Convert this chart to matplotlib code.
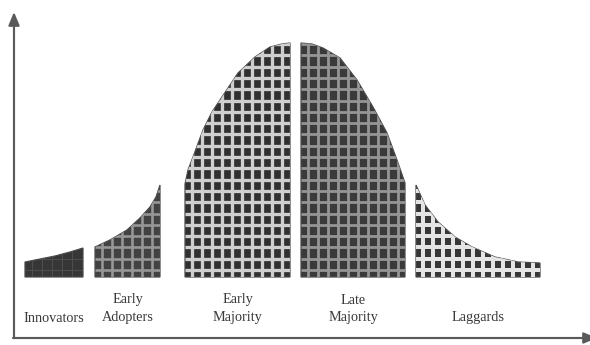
"""
Diffusion-of-innovations bell curve, split into the five adopter groups,
each drawn as a grid-patterned block with a small gap between groups.
"""
import numpy as np
import matplotlib
matplotlib.use('Agg')
import matplotlib.pyplot as plt

# ===========================================================
# Data (x along the curve, height above the baseline)
# ===========================================================
innov_x = [25, 40, 55, 70, 83]
innov_y = [15, 18, 21, 25, 29]

early_adopt_x = [95, 110, 127, 140, 150, 156, 160]
early_adopt_y = [30, 37, 47, 59, 70, 80, 92]

early_maj_x = [185, 188, 193, 203, 212, 222, 238, 255, 270, 282, 290]
early_maj_y = [93, 107, 120, 147, 165, 180, 204, 220, 230, 233, 234]

late_maj_x = [301, 312, 323, 340, 357, 373, 387, 397, 405]
late_maj_y = [234, 233, 229, 219, 197, 170, 144, 117, 94]

laggard_x = [416, 425, 438, 455, 472, 495, 518, 540]
laggard_y = [92, 72, 55, 40, 30, 20, 15, 14]

labels = ['Innovators', 'Early\nAdopters', 'Early\nMajority', 'Late\nMajority', 'Laggards']

# ===========================================================
# Styles: (face colour, grid colour, grid width in px)
# ===========================================================
STYLES = [
    ('#363636', '#4e4e4e', 1.0),
    ('#424242', '#979797', 2.6),
    ('#303030', '#cfcfcf', 3.3),
    ('#3a3a3a', '#959595', 2.8),
    ('#363636', '#e4e4e4', 4.0),
]
STEP_X, STEP_Y = 10.0, 11.3   # px between grid lines
AX_COLOR = '#5a5a5a'
TEXT_COLOR = '#3a3a3a'

DPI = 110
PT = 72.0 / DPI               # px -> points
fig = plt.figure(figsize=(590 / DPI, 345 / DPI), dpi=DPI)
ax = fig.add_axes([0, 0, 1, 1])
ax.set_xlim(0, 590)
ax.set_ylim(-68, 277)
ax.axis('off')

segments = [(innov_x, innov_y), (early_adopt_x, early_adopt_y),
            (early_maj_x, early_maj_y), (late_maj_x, late_maj_y),
            (laggard_x, laggard_y)]

for (xs, ys), (face, grid, glw), lab in zip(segments, STYLES, labels):
    px = [xs[0]] + list(xs) + [xs[-1]]
    py = [0] + list(ys) + [0]
    patch, = ax.fill(px, py, facecolor=face, edgecolor='none', lw=0)

    # light grid over the dark face, clipped to the shape
    gx = np.arange(xs[0] + 7, xs[-1] - 4, STEP_X)
    gy = np.arange(7, max(ys) + STEP_Y, STEP_Y)
    vl = ax.vlines(gx, 0, max(ys) + 2, colors=grid, lw=glw * PT)
    hl = ax.hlines(gy, xs[0], xs[-1], colors=grid, lw=glw * PT)
    vl.set_clip_path(patch)
    hl.set_clip_path(patch)

    ax.fill(px, py, facecolor='none', edgecolor='#4a4a4a', lw=0.8)

    cx = (xs[0] + xs[-1]) / 2
    lines = lab.split('\n')
    if len(lines) == 2:
        ax.text(cx, -23, lines[0], ha='center', va='center', fontsize=9.3,
                family='Liberation Serif', color=TEXT_COLOR)
    ax.text(cx, -41, lines[-1], ha='center', va='center', fontsize=9.3,
            family='Liberation Serif', color=TEXT_COLOR)

# axes with arrow heads
arrow = dict(arrowstyle='-|>,head_length=0.6,head_width=0.25',
             color=AX_COLOR, lw=1.4, mutation_scale=12, shrinkA=0, shrinkB=0)
ax.annotate('', xy=(14, 265), xytext=(14, -61), arrowprops=arrow,
            annotation_clip=False)
ax.annotate('', xy=(597, -61), xytext=(13, -61), arrowprops=arrow,
            annotation_clip=False)

plt.savefig('out.png', dpi=DPI)
plt.close()
